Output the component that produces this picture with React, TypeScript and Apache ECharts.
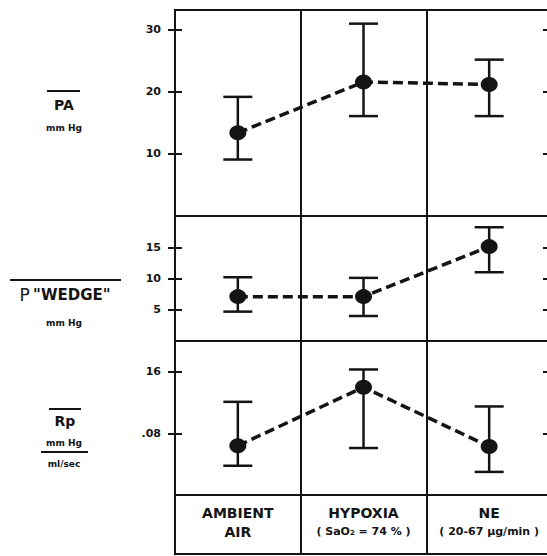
import React, { useEffect, useRef } from "react";
import * as echarts from "echarts";

const categories = ["AMBIENT", "HYPOXIA", "NE"];
const subLabels = ["AIR", "( SaO₂ = 74 % )", "( 20-67 μg/min )"];

const paMean = [13.4, 21.6, 21.2];
const paLow = [9.1, 16.1, 16.1];
const paHigh = [19.2, 31.0, 25.2];
const paTicks = [10, 20, 30];
const paTickLabels = ["10", "20", "30"];

const wedgeMean = [7.1, 7.1, 15.1];
const wedgeLow = [4.7, 4.0, 11.0];
const wedgeHigh = [10.2, 10.1, 18.2];
const wedgeTicks = [5, 10, 15];
const wedgeTickLabels = ["5", "10", "15"];

const rpMean = [0.064, 0.14, 0.063];
const rpLow = [0.038, 0.061, 0.03];
const rpHigh = [0.121, 0.163, 0.115];
const rpTicks = [0.08, 0.16];
const rpTickLabels = [".08", "16"];

const INK = "#141414";
const FONT = "DejaVu Sans";

export default function App() {
  const ref = useRef<HTMLDivElement>(null);
  useEffect(() => {
    if (!ref.current) return;
    const chart = echarts.init(ref.current, null, { renderer: "svg" });

    const panels = [
      { top: 10, height: 206, max: 33.2, mean: paMean, low: paLow, high: paHigh, ticks: paTicks, labels: paTickLabels },
      { top: 216, height: 125, max: 20, mean: wedgeMean, low: wedgeLow, high: wedgeHigh, ticks: wedgeTicks, labels: wedgeTickLabels },
      { top: 341, height: 154, max: 0.2, mean: rpMean, low: rpLow, high: rpHigh, ticks: rpTicks, labels: rpTickLabels },
    ];

    const gridBase = {
      left: 175, width: 377, show: true, borderColor: INK, borderWidth: 2,
      backgroundColor: "transparent", containLabel: false, outerBoundsMode: "none",
    };
    const grids: any[] = panels.map((p) => ({ ...gridBase, top: p.top, height: p.height }));
    grids.push({ ...gridBase, top: 495, height: 59 });

    const xAxes: any[] = [0, 1, 2, 3].map((g) => ({
      type: "category", gridIndex: g, data: categories, boundaryGap: true,
      position: g === 3 ? "top" : "bottom",
      axisLine: { show: false }, axisTick: { show: false },
      splitLine: { show: true, lineStyle: { color: INK, width: 2 } },
      axisLabel: g === 3
        ? {
            show: true, inside: true, margin: 8, interval: 0,
            formatter: (v: string, i: number) =>
              `{a|${v}}\n{${i === 0 ? "a" : "b"}|${subLabels[i]}}`,
            rich: {
              a: { fontFamily: FONT, fontWeight: "bold", fontSize: 14, color: INK, lineHeight: 19 },
              b: { fontFamily: FONT, fontWeight: "bold", fontSize: 11, color: INK, lineHeight: 19 },
            },
          }
        : { show: false },
    }));

    const yAxes: any[] = [];
    const series: any[] = [];
    panels.forEach((p, g) => {
      const base = { type: "value", gridIndex: g, min: 0, max: p.max, splitLine: { show: false } };
      yAxes.push({
        ...base, position: "left",
        axisLine: { show: false },
        axisTick: { show: true, length: 7, customValues: p.ticks, lineStyle: { color: INK, width: 2 } },
        axisLabel: {
          show: true, customValues: p.ticks, margin: 14,
          formatter: (v: number) => p.labels[p.ticks.findIndex((t) => Math.abs(t - v) < 1e-9)] ?? "",
          fontFamily: FONT, fontWeight: "bold", fontSize: 11, color: INK,
        },
      });
      const primaryIdx = yAxes.length - 1;
      yAxes.push({
        ...base, position: "left",
        axisLine: { show: false },
        axisTick: { show: true, inside: true, length: 7, customValues: p.ticks, lineStyle: { color: INK, width: 2 } },
        axisLabel: { show: false },
      });
      yAxes.push({
        ...base, position: "right",
        axisLine: { show: false },
        axisTick: { show: true, inside: true, length: 9, customValues: p.ticks, lineStyle: { color: INK, width: 2 } },
        axisLabel: { show: false },
      });

      series.push({
        type: "custom", xAxisIndex: g, yAxisIndex: primaryIdx, z: 2,
        data: p.mean.map((_, i) => [i, p.low[i], p.high[i]]),
        encode: { x: 0, y: [1, 2] },
        renderItem: (_params: any, api: any) => {
          const x = api.value(0);
          const lo = api.coord([x, api.value(1)]);
          const hi = api.coord([x, api.value(2)]);
          const half = 14.5;
          const style = { stroke: INK, lineWidth: 2.5 };
          return {
            type: "group",
            children: [
              { type: "line", shape: { x1: lo[0], y1: lo[1], x2: hi[0], y2: hi[1] }, style },
              { type: "line", shape: { x1: hi[0] - half, y1: hi[1], x2: hi[0] + half, y2: hi[1] }, style },
              { type: "line", shape: { x1: lo[0] - half, y1: lo[1], x2: lo[0] + half, y2: lo[1] }, style },
            ],
          };
        },
      });
      series.push({
        type: "line", xAxisIndex: g, yAxisIndex: primaryIdx, z: 3,
        data: p.mean,
        symbol: "circle", symbolSize: [17, 15],
        itemStyle: { color: INK },
        lineStyle: { color: INK, width: 3.5, type: [10, 5] },
      });
    });
    yAxes.push({ type: "value", gridIndex: 3, show: false, min: 0, max: 1 });

    const t = (x: number, y: number, text: string, size: number, bold = true) => ({
      type: "text", x, y,
      style: { text, fontFamily: FONT, fontSize: size, fontWeight: bold ? "bold" : "normal", fill: INK, align: "center", verticalAlign: "middle" },
    });
    const ln = (x1: number, y1: number, x2: number, y2: number, w = 2) => ({
      type: "line", shape: { x1, y1, x2, y2 }, style: { stroke: INK, lineWidth: w },
    });

    const graphic = [
      ln(47, 91, 80, 91),
      t(64, 105, "PA", 14),
      t(64, 128, "mm Hg", 9),
      ln(10, 280, 121, 280),
      {
        type: "text", x: 65, y: 295,
        style: {
          text: "{p|P} {w|\"WEDGE\"}", align: "center", verticalAlign: "middle",
          rich: {
            p: { fontFamily: FONT, fontSize: 17, fontWeight: "normal", fill: INK },
            w: { fontFamily: FONT, fontSize: 15, fontWeight: "bold", fill: INK },
          },
        },
      },
      t(64, 323, "mm Hg", 9),
      ln(49, 409, 81, 409),
      t(65, 421, "Rp", 14),
      t(64, 443, "mm Hg", 9),
      ln(41, 452, 88, 452),
      t(64, 464, "ml/sec", 9),
    ];

    chart.setOption({
      animation: false,
      backgroundColor: "#fff",
      grid: grids,
      xAxis: xAxes,
      yAxis: yAxes,
      series,
      graphic,
    });
    return () => chart.dispose();
  }, []);
  return <div ref={ref} style={{ position: "fixed", left: 0, top: 0, width: 547, height: 556 }} />;
}
